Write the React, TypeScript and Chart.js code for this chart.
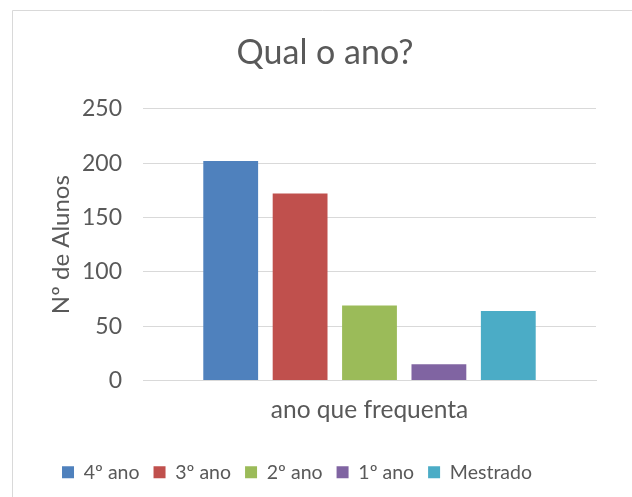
import React, { useEffect, useRef } from "react";
import { Chart, registerables } from "chart.js";

Chart.register(...registerables);

const categories = ["ano que frequenta"];
const seriesNames = ["4º ano", "3º ano", "2º ano", "1º ano", "Mestrado"];
const seriesValues = [202, 172, 69, 15, 64];
const seriesColors = ["#4F81BD", "#C0504D", "#9BBB59", "#8064A2", "#4BACC6"];
const yTicks = [0, 50, 100, 150, 200, 250];

const FONT = "Lato, 'Open Sans', sans-serif";
const TEXT = "#595959";
const GRID = "#D9D9D9";

const TITLE_SHIFT = 21;
const LEGEND_SHIFT = -7;

const framePlugin = {
  id: "frame",
  beforeDraw(chart: any) {
    const ctx = chart.ctx;
    ctx.save();
    ctx.fillStyle = "#ffffff";
    ctx.fillRect(0, 0, chart.width, chart.height);
    ctx.strokeStyle = GRID;
    ctx.lineWidth = 1;
    ctx.beginPath();
    ctx.moveTo(12.5, chart.height);
    ctx.lineTo(12.5, 10.5);
    ctx.lineTo(chart.width, 10.5);
    ctx.stroke();
    ctx.restore();
  },
  afterLayout(chart: any) {
    const t = chart.titleBlock;
    if (t) {
      t.left += TITLE_SHIFT;
      t.right += TITLE_SHIFT;
    }
    const l = chart.legend;
    if (l) {
      l.left += LEGEND_SHIFT;
      l.right += LEGEND_SHIFT;
    }
  },
};

export default function App() {
  const ref = useRef<HTMLCanvasElement | null>(null);

  useEffect(() => {
    if (!ref.current) return;
    const chart = new Chart(ref.current, {
      type: "bar",
      data: {
        labels: categories,
        datasets: seriesNames.map((name, i) => ({
          label: name,
          data: [seriesValues[i]],
          backgroundColor: seriesColors[i],
          borderWidth: 0,
          categoryPercentage: 0.766,
          barPercentage: 0.79,
        })),
      },
      options: {
        animation: false,
        responsive: false,
        maintainAspectRatio: false,
        layout: { padding: { left: 12, right: 36, top: 10, bottom: 5 } },
        plugins: {
          title: {
            display: true,
            text: "Qual o ano?",
            color: TEXT,
            font: { family: FONT, size: 34, weight: "normal" },
            padding: { top: 23, bottom: 35 },
          },
          legend: {
            display: true,
            position: "bottom",
            labels: {
              color: TEXT,
              font: { family: FONT, size: 19.5 },
              boxWidth: 12,
              boxHeight: 12,
              padding: 14,
            },
          },
          tooltip: { enabled: false },
        },
        scales: {
          x: {
            grid: { display: false },
            border: { display: true, color: GRID, width: 1 },
            ticks: {
              color: TEXT,
              font: { family: FONT, size: 24.5 },
              padding: 7,
            },
            afterFit: (s: any) => {
              s.height = 68;
            },
          },
          y: {
            min: 0,
            max: 250,
            afterBuildTicks: (s: any) => {
              s.ticks = yTicks.map((v) => ({ value: v }));
            },
            grid: { color: GRID, drawTicks: false, lineWidth: 1 },
            border: { display: false },
            ticks: {
              color: TEXT,
              font: { family: FONT, size: 23 },
              padding: 21,
            },
            title: {
              display: true,
              text: "Nº de Alunos",
              color: TEXT,
              font: { family: FONT, size: 24 },
              padding: { top: 35, bottom: 0 },
            },
            afterFit: (s: any) => {
              s.width = 131;
            },
          },
        },
      },
      plugins: [framePlugin],
    });
    return () => chart.destroy();
  }, []);

  return (
    <div style={{ position: "absolute", left: 0, top: 0, width: 632, height: 497 }}>
      <canvas ref={ref} width={632} height={497} style={{ display: "block", width: 632, height: 497 }} />
    </div>
  );
}
